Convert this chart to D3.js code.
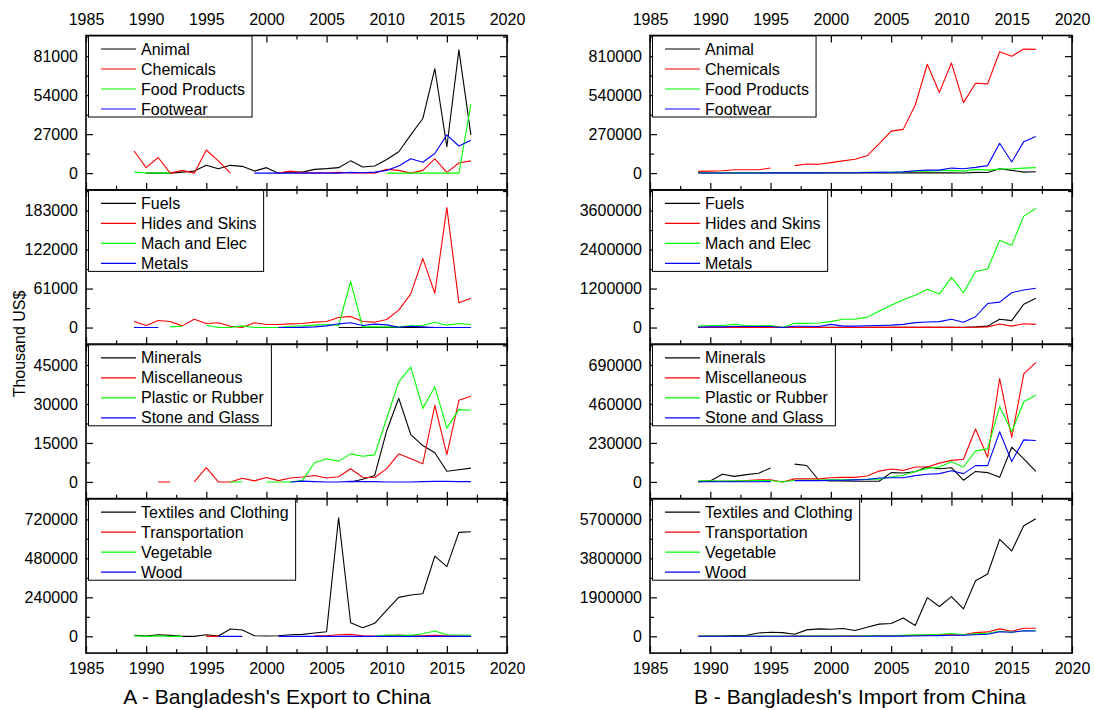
<!DOCTYPE html>
<html><head><meta charset="utf-8">
<script src="https://cdn.jsdelivr.net/npm/d3@7"></script>
<style>
body{margin:0;background:#fff;}
svg text{font-family:"Liberation Sans",Arial,sans-serif;fill:#000;}
</style></head><body>
<svg id="chart" width="1094" height="710"></svg>
<script>
const years = [1989,1990,1991,1992,1993,1994,1995,1996,1997,1998,1999,2000,2001,2002,2003,2004,2005,2006,2007,2008,2009,2010,2011,2012,2013,2014,2015,2016,2017];
const xTickLabels = [1985,1990,1995,2000,2005,2010,2015,2020];
const seriesColors = ["#000000","#ff0000","#00ff00","#0000ff"];
const N = null;

// ---- Export to China (thousand US$) ----
const exAnimal = [N,0,100,0,700,1400,5400,3100,5400,4700,1400,3800,0,900,700,2600,3100,3800,8500,4200,4900,9400,14800,26500,37800,72300,18300,85400,26500];
const exChemicals = [15300,3800,10800,0,1900,0,16000,8500,0,N,N,N,0,1400,300,200,300,500,200,200,0,2600,1900,0,1900,9900,500,7000,8500];
const exFood = [700,200,0,0,N,N,N,N,N,N,N,N,N,N,N,N,N,N,N,N,N,0,0,0,0,0,0,0,47700];
const exFootwear = [N,N,N,N,N,N,N,N,N,N,0,0,0,0,0,0,0,0,500,300,700,1900,4900,9900,7500,13600,26500,18800,22800];

const exFuels = [0,0,0,N,N,N,N,N,N,N,N,N,N,N,N,N,N,0,0,0,0,0,0,0,0,0,0,0,0];
const exHides = [9500,3200,11000,9500,2600,13100,6300,7400,2100,0,7400,4700,4700,5800,6300,8400,9500,15800,17400,9500,8400,12600,27300,52600,107800,53600,187700,38900,45800];
const exMach = [N,N,N,1000,2100,N,3700,0,0,2600,0,0,0,2100,2600,3700,4700,3200,72000,1000,1000,1000,1000,2600,3200,8400,3700,6300,4700];
const exMetals = [0,0,0,N,N,N,N,N,N,N,N,N,0,0,300,1000,2600,5800,7400,3200,5300,4200,500,2100,1000,0,0,0,0];

const exMinerals = [N,N,N,N,N,N,N,N,N,N,N,N,N,N,N,N,N,N,0,1000,2500,19700,32200,18200,14000,11200,4100,4700,5300];
const exMisc = [N,N,0,0,N,0,5500,0,0,1400,400,1700,500,1500,1900,2500,1500,2000,5100,1800,1700,5100,10800,8900,7000,29500,10500,31400,33000];
const exPlastic = [N,N,N,N,N,N,N,N,0,0,N,0,0,0,600,7400,8900,8000,10800,9900,10400,24500,38500,44200,28300,36600,20700,27800,27600];
const exStone = [N,N,N,N,N,N,N,N,N,N,N,N,N,0,300,100,0,0,200,100,100,0,0,0,100,200,200,100,100];

const exTextiles = [6000,2000,10000,6000,0,0,10000,2000,45000,39000,4000,2000,4000,10000,12000,20500,28700,730000,84000,53000,80000,162000,240000,254000,262000,494000,429000,640000,644000];
const exTransport = [N,N,N,N,N,N,0,0,N,N,N,N,N,N,N,3000,4000,10000,12000,4000,2000,4000,8000,4000,4000,6000,4000,2000,2000];
const exVegetable = [4000,0,2000,0,0,N,N,N,N,N,N,N,N,N,N,N,N,N,N,N,2000,8000,6000,6000,16000,33000,10000,8000,6000];
const exWood = [N,N,N,N,N,N,N,0,0,0,N,N,0,0,0,0,0,0,0,0,0,0,0,0,0,0,0,0,0];

// ---- Import from China (thousand US$) ----
const imAnimal = [1000,1000,1000,1000,1000,1000,1000,1000,1000,1000,1000,1000,1000,1000,1000,2000,2000,2000,2000,2000,1500,1500,1200,5000,4000,30000,19000,7000,9400];
const imChemicals = [12000,14000,16000,23000,23000,23000,35000,N,52000,63000,61000,73000,85000,96000,120000,202000,291000,303000,472000,754000,559000,763000,488000,622000,618000,841000,810000,859000,857000];
const imFood = [3000,3000,3000,3000,3000,3000,3000,3000,3000,3000,3000,4000,4000,4000,5000,5000,6000,8000,14000,14000,16000,19000,14000,26000,21000,28000,30000,35000,38000];
const imFootwear = [1000,1000,1000,1000,1000,1000,2000,2000,2000,2000,2000,3000,3000,3000,4000,5000,6000,9000,16000,21000,21000,35000,30000,40000,52000,207000,77000,218000,254000];

const imFuels = [5000,5000,5000,5000,5000,5000,5000,5000,5000,5000,5000,5000,5000,5000,5000,5000,5000,5000,5000,8000,8000,10000,10000,20000,43000,257000,214000,718000,900000];
const imHides = [2000,2000,2000,2000,2000,2000,2000,2000,3000,3000,3000,3000,3000,3000,4000,4000,5000,5000,6000,6000,6000,8000,0,10000,20000,107000,43000,118000,96000];
const imMach = [43000,64000,64000,96000,54000,54000,64000,0,129000,129000,139000,182000,257000,257000,321000,504000,686000,857000,996000,1178000,1029000,1543000,1071000,1725000,1800000,2679000,2529000,3429000,3664000];
const imMetals = [10000,20000,20000,30000,30000,30000,30000,0,40000,40000,30000,96000,43000,43000,54000,64000,75000,96000,150000,171000,182000,257000,161000,332000,739000,782000,1071000,1157000,1211000];

const imMinerals = [2000,6000,45000,33000,43000,51000,82000,N,105000,97000,10000,6000,6000,4000,4000,4000,55000,53000,60000,90000,78000,84000,10000,62000,55000,27000,205000,136000,62000];
const imMisc = [2000,4000,4000,4000,8000,12000,12000,0,18000,18000,18000,25000,27000,27000,35000,64000,76000,68000,88000,88000,111000,127000,134000,312000,146000,610000,263000,637000,704000];
const imPlastic = [6000,6000,5000,6000,7000,8000,8000,0,10000,10000,11000,12000,13000,14000,15000,16000,29000,39000,62000,80000,88000,119000,88000,183000,195000,444000,296000,473000,511000];
const imStone = [1000,1000,1000,1000,1000,1000,2000,N,8000,8000,8000,10000,10000,12000,14000,23000,25000,25000,37000,45000,49000,66000,49000,96000,96000,296000,121000,248000,244000];

const imTextiles = [5000,10000,15000,33000,50000,165000,198000,182000,99000,314000,363000,347000,380000,281000,446000,595000,628000,892000,529000,1884000,1454000,1933000,1338000,2710000,3040000,4725000,4163000,5386000,5733000];
const imTransport = [2000,2000,3000,3000,4000,5000,6000,6000,10000,12000,15000,18000,20000,22000,25000,28000,30000,40000,50000,60000,70000,80000,70000,182000,215000,363000,248000,397000,397000];
const imVegetable = [3000,3000,3000,3000,4000,4000,5000,5000,6000,8000,10000,12000,14000,16000,20000,25000,30000,50000,70000,80000,100000,140000,80000,120000,150000,250000,200000,270000,270000];
const imWood = [1000,1000,1000,1000,1000,1000,2000,2000,2000,3000,3000,4000,5000,6000,7000,8000,10000,12000,15000,30000,35000,50000,50000,80000,100000,220000,200000,270000,260000];

// tick labels per panel
const exportYTicks = [[0,27000,54000,81000],[0,61000,122000,183000],[0,15000,30000,45000],[0,240000,480000,720000]];
const importYTicks = [[0,270000,540000,810000],[0,1200000,2400000,3600000],[0,230000,460000,690000],[0,1900000,3800000,5700000]];

const groupNames = [
  ["Animal","Chemicals","Food Products","Footwear"],
  ["Fuels","Hides and Skins","Mach and Elec","Metals"],
  ["Minerals","Miscellaneous","Plastic or Rubber","Stone and Glass"],
  ["Textiles and Clothing","Transportation","Vegetable","Wood"]
];
const exportSeries = [
  [exAnimal,exChemicals,exFood,exFootwear],
  [exFuels,exHides,exMach,exMetals],
  [exMinerals,exMisc,exPlastic,exStone],
  [exTextiles,exTransport,exVegetable,exWood]
];
const importSeries = [
  [imAnimal,imChemicals,imFood,imFootwear],
  [imFuels,imHides,imMach,imMetals],
  [imMinerals,imMisc,imPlastic,imStone],
  [imTextiles,imTransport,imVegetable,imWood]
];

// ---- layout ----
const svg = d3.select("#chart");
const panelTop0 = 35.5, panelH = 154.4;
const columns = [
  {x0:86, x1:507, titleX:277, title:"A - Bangladesh's Export to China", series:exportSeries, yTicks:exportYTicks},
  {x0:650, x1:1072, titleX:860, title:"B - Bangladesh's Import from China", series:importSeries, yTicks:importYTicks}
];
const FS = 16;

columns.forEach(col => {
  const x = d3.scaleLinear().domain([1985,2020]).range([col.x0, col.x1]);
  const xMinor = d3.range(1987.5, 2020, 5);
  for (let p = 0; p < 4; p++) {
    const top = panelTop0 + p*panelH, bottom = top + panelH;
    const ticks = col.yTicks[p];
    const step = ticks[1] - ticks[0];
    const y = d3.scaleLinear().domain([-0.43*step, 3.53*step]).range([bottom, top]);
    const yMinor = ticks.map(t => t + step/2);
    const g = svg.append("g");

    // lines
    const line = d3.line().defined(d => d != null).x((d,i) => x(years[i])).y(d => y(d));
    col.series[p].forEach((arr, k) => {
      g.append("path").datum(arr).attr("d", line)
        .attr("fill","none").attr("stroke", seriesColors[k]).attr("stroke-width",1.1)
        .attr("stroke-linejoin","round");
    });

    // axes (inward ticks)
    const styleAxis = sel => { sel.select(".domain").remove(); sel.selectAll("line").attr("stroke","#000").attr("stroke-width",1.2); sel.selectAll("text").attr("font-size",FS).attr("font-family","Liberation Sans, Arial, sans-serif"); };
    g.append("g").attr("transform",`translate(${col.x0},0)`)
      .call(d3.axisLeft(y).tickValues(ticks).tickSize(-7).tickPadding(8).tickFormat(d3.format("d"))).call(styleAxis);
    g.append("g").attr("transform",`translate(${col.x0},0)`)
      .call(d3.axisLeft(y).tickValues(yMinor).tickSize(-4).tickFormat("")).call(styleAxis);
    g.append("g").attr("transform",`translate(${col.x1},0)`)
      .call(d3.axisRight(y).tickValues(ticks).tickSize(-7).tickFormat("")).call(styleAxis);
    g.append("g").attr("transform",`translate(${col.x1},0)`)
      .call(d3.axisRight(y).tickValues(yMinor).tickSize(-4).tickFormat("")).call(styleAxis);
    g.append("g").attr("transform",`translate(0,${top})`)
      .call(d3.axisTop(x).tickValues(xTickLabels).tickSize(-7).tickPadding(11).tickFormat(p === 0 ? d3.format("d") : "")).call(styleAxis);
    g.append("g").attr("transform",`translate(0,${top})`)
      .call(d3.axisTop(x).tickValues(xMinor).tickSize(-4).tickFormat("")).call(styleAxis);
    g.append("g").attr("transform",`translate(0,${bottom})`)
      .call(d3.axisBottom(x).tickValues(xTickLabels).tickSize(-7).tickPadding(9.5).tickFormat(p === 3 ? d3.format("d") : "")).call(styleAxis);
    g.append("g").attr("transform",`translate(0,${bottom})`)
      .call(d3.axisBottom(x).tickValues(xMinor).tickSize(-4).tickFormat("")).call(styleAxis);

    // frame
    g.append("rect").attr("x",col.x0).attr("y",top).attr("width",col.x1-col.x0).attr("height",panelH)
      .attr("fill","none").attr("stroke","#000").attr("stroke-width",1.6);

    // legend
    const lg = g.append("g");
    const box = lg.append("rect").attr("x",col.x0+2.5).attr("y",top+0.5).attr("height",81)
      .attr("fill","#fff").attr("stroke","#000").attr("stroke-width",1);
    let maxR = 0;
    groupNames[p].forEach((name,k) => {
      const cy = top + 13.5 + 20*k;
      lg.append("line").attr("x1",col.x0+15).attr("x2",col.x0+50).attr("y1",cy).attr("y2",cy)
        .attr("stroke",seriesColors[k]).attr("stroke-width",1.2);
      const t = lg.append("text").attr("x",col.x0+55).attr("y",cy).attr("dy","0.35em")
        .attr("font-size",FS).text(name);
      const bb = t.node().getBBox();
      maxR = Math.max(maxR, bb.x + bb.width);
    });
    box.attr("width", maxR + 7 - (col.x0+2.5));
  }
  // column title
  svg.append("text").attr("x",col.titleX).attr("y",704).attr("text-anchor","middle")
    .attr("font-size",21).text(col.title);
});

// y-axis title
svg.append("text").attr("transform","translate(25,344) rotate(-90)").attr("text-anchor","middle")
  .attr("font-size",16).text("Thousand US$");
</script>
</body></html>
